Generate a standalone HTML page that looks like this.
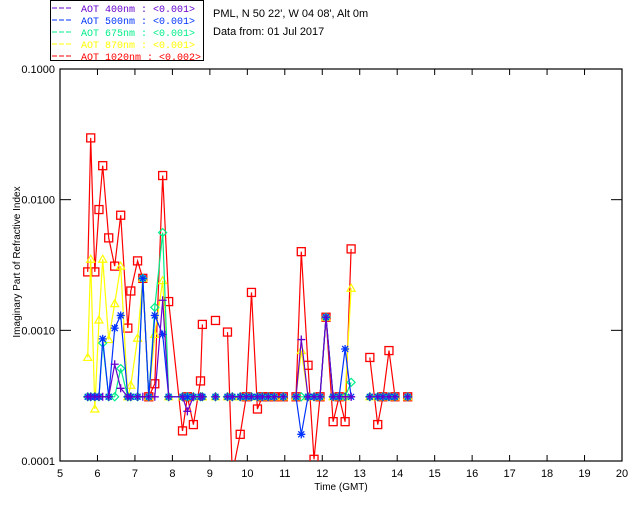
<!DOCTYPE html>
<html><head><meta charset="utf-8"><style>
body{margin:0;background:#fff;}
svg{display:block;font-family:"Liberation Sans",sans-serif;}
</style></head><body>
<svg id="chart" width="640" height="512" viewBox="0 0 640 512" xmlns="http://www.w3.org/2000/svg">
<rect width="640" height="512" fill="#fff"/>
<g id="legend">
<rect x="50.5" y="0.5" width="153" height="60" fill="#fff" stroke="#000"/>
</g>
<text x="213" y="17" font-size="11" fill="#000">PML, N 50 22', W 04 08', Alt 0m</text>
<text x="213" y="35" font-size="11" fill="#000">Data from: 01 Jul 2017</text>
<g id="axes"></g>
<g id="series"></g>
<text x="341" y="490" font-size="10" text-anchor="middle">Time (GMT)</text>
<text transform="translate(20,262) rotate(-90)" font-size="10" text-anchor="middle">Imaginary Part of Refractive Index</text>
</svg>
<script>
const times=[5.74,5.82,5.93,6.04,6.14,6.30,6.46,6.62,6.81,6.89,7.07,7.21,7.37,7.53,7.74,7.90,8.27,8.40,8.56,8.75,8.80,9.15,9.47,9.60,9.81,9.97,10.11,10.27,10.40,10.56,10.72,10.96,11.30,11.44,11.62,11.78,11.94,12.10,12.29,12.45,12.61,12.77,13.27,13.48,13.62,13.78,13.94,14.28];
const segmentStarts=[21,22,32,42,47];
const b=0.00031;
const aot1020=[.0028,.0297,.0028,.0084,.0182,.0051,.0031,.0076,.00104,.0020,.0034,.0025,.00031,.00039,.0153,.00166,.00017,.00031,.00019,.00041,.00111,.00119,.00097,.00008,.00016,.00031,.00195,.00025,.00031,.00031,.00031,.00031,.00031,.0040,.00054,.000103,.00031,.00126,.00020,.00031,.00020,.0042,.00062,.00019,.00031,.00070,.00031,.00031];
const aot870=[.00062,.0035,.00025,.0012,.0035,.00085,.0016,.0031,b,.00038,.00087,.0025,b,.00093,.0024,b,b,b,b,b,b,b,b,b,b,b,b,b,b,b,b,b,b,.0007,b,b,b,.00126,b,b,b,.0021,b,b,b,b,b,b];
const aot675=[b,b,b,b,.0008,b,b,.00051,b,b,b,.0025,b,.0015,.0056,b,b,b,b,b,b,b,b,b,b,b,b,b,b,b,b,b,b,b,b,b,b,.00126,b,b,b,.0004,b,b,b,b,b,b];
const aot500=[b,b,b,b,.00086,b,.00104,.0013,b,b,b,.0025,b,.0013,.00093,b,b,b,b,b,b,b,b,b,b,b,b,b,b,b,b,b,b,.00016,b,b,b,.00126,b,b,.00072,b,b,b,b,b,b,b];
const aot400=[b,b,b,b,b,b,.00055,.00036,b,b,b,b,b,b,.0017,b,b,.00024,b,b,b,b,b,b,b,b,b,b,b,b,b,b,b,.00085,b,b,b,.00126,b,b,b,b,b,b,b,b,b,b];
const xTicks=[5,6,7,8,9,10,11,12,13,14,15,16,17,18,19,20];
const yTicks=[0.1,0.01,0.001,0.0001];
const yTickLabels=["0.1000","0.0100","0.0010","0.0001"];
const legendLabels=["AOT  400nm : <0.001>","AOT  500nm : <0.001>","AOT  675nm : <0.001>","AOT  870nm : <0.001>","AOT 1020nm : <0.002>"];

const NS="http://www.w3.org/2000/svg";
const L=60,R=622,T=69,B=461;
function xs(t){return L+(t-5)/15*(R-L);}
function ys(v){return T+(Math.log10(0.1)-Math.log10(v))/3*(B-T);}
function mk(tag,attrs,parent){const e=document.createElementNS(NS,tag);for(const k in attrs)e.setAttribute(k,attrs[k]);parent.appendChild(e);return e;}
const axes=document.getElementById('axes');
const fr=mk('rect',{x:L,y:T,width:R-L,height:B-T,fill:'none',stroke:'#000','stroke-width':1.2},axes);


xTicks.forEach(t=>{
  const x=xs(t);
  const l1=mk('line',{x1:x,y1:B,x2:x,y2:B-6,stroke:'#000'},axes);
  
  
  const l2=mk('line',{x1:x,y1:T,x2:x,y2:T+6,stroke:'#000'},axes);
  
  
  const tx=mk('text',{x:x,y:477,'font-size':11,'text-anchor':'middle'},axes);
  tx.textContent=t;
  
  
});
yTicks.forEach((v,i)=>{
  const y=ys(v);
  const l1=mk('line',{x1:L,y1:y,x2:L+11,y2:y,stroke:'#000'},axes);
  
  
  const l2=mk('line',{x1:R,y1:y,x2:R-11,y2:y,stroke:'#000'},axes);
  
  
  const tx=mk('text',{x:55,y:y+4,'font-size':11,'text-anchor':'end'},axes);
  tx.textContent=yTickLabels[i];
  
  
});
const series=[
 {name:'aot-400nm',vals:aot400,color:'#6600cc',mark:'plus'},
 {name:'aot-500nm',vals:aot500,color:'#0033ff',mark:'star'},
 {name:'aot-675nm',vals:aot675,color:'#00ee88',mark:'diamond'},
 {name:'aot-870nm',vals:aot870,color:'#ffff00',mark:'triangle'},
 {name:'aot-1020nm',vals:aot1020,color:'#ff0000',mark:'square'}
];
const sg=document.getElementById('series');
const clip=mk('clipPath',{id:'pc'},sg);mk('rect',{x:L,y:T,width:R-L,height:B-T},clip);
const legend=document.getElementById('legend');
const order=[4,3,2,1,0];
order.forEach(si=>{
  const s=series[si];
  const g=mk('g',{'clip-path':'url(#pc)'},sg);
  
  
  let d='';
  times.forEach((t,i)=>{
    const v=s.vals[i];
    const cmd=(i===0||segmentStarts.includes(i))?'M':'L';
    d+=cmd+xs(t).toFixed(1)+' '+ys(v).toFixed(1)+' ';
  });
  const p=mk('path',{d:d,fill:'none',stroke:s.color,'stroke-width':1.2},g);
  
  
  times.forEach((t,i)=>{
    const x=xs(t),y=ys(s.vals[i]);let m;
    if(s.mark==='square')m=mk('rect',{x:x-4,y:y-4,width:8,height:8,fill:'none',stroke:s.color,'stroke-width':1.3},g);
    else if(s.mark==='triangle')m=mk('path',{d:`M${x} ${y-4}L${x+4} ${y+3}L${x-4} ${y+3}Z`,fill:'none',stroke:s.color,'stroke-width':1.2},g);
    else if(s.mark==='diamond')m=mk('path',{d:`M${x} ${y-4}L${x+4} ${y}L${x} ${y+4}L${x-4} ${y}Z`,fill:'none',stroke:s.color,'stroke-width':1.2},g);
    else if(s.mark==='star')m=mk('path',{d:`M${x-4} ${y}H${x+4}M${x} ${y-4}V${y+4}M${x-3} ${y-3}L${x+3} ${y+3}M${x-3} ${y+3}L${x+3} ${y-3}`,stroke:s.color,'stroke-width':1.3},g);
    else m=mk('path',{d:`M${x-4} ${y}H${x+4}M${x} ${y-4}V${y+4}`,stroke:s.color,'stroke-width':1.3},g);
    
    
  });
});
series.forEach((s,i)=>{
  const y=12+i*12;
  const l=mk('line',{x1:52,y1:y-4,x2:73,y2:y-4,stroke:s.color,'stroke-dasharray':'5,2'},legend);
  
  
  const tx=mk('text',{x:81,y:y,'font-size':10,'font-family':'"Liberation Mono",monospace',fill:s.color,'xml:space':'preserve'},legend);
  tx.textContent=legendLabels[i];
  
  
});
</script>
</body></html>
